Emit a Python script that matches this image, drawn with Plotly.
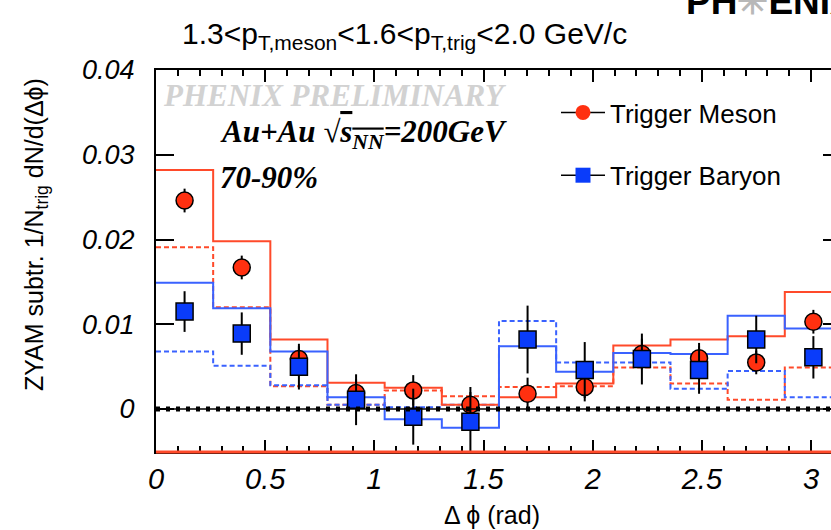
import numpy as np
import plotly.graph_objects as go

# ---------------- data ----------------
n_bins = 12
bin_edges = np.linspace(0, np.pi, n_bins + 1)
bin_centers = 0.5 * (bin_edges[:-1] + bin_edges[1:])

meson = [0.0246, 0.0167, 0.0059, 0.0019, 0.0022, 0.0005, 0.0018, 0.0026, 0.0065, 0.0060, 0.0055, 0.0103]
meson_err = [0.0014, 0.0014, 0.0015, 0.0016, 0.0018, 0.0021, 0.0019, 0.0017, 0.0018, 0.0018, 0.0014, 0.0014]
baryon = [0.0115, 0.0089, 0.0050, 0.0011, -0.0009, -0.0015, 0.0082, 0.0046, 0.0059, 0.0046, 0.0082, 0.0061]
baryon_err = [0.0024, 0.0025, 0.0027, 0.0030, 0.0033, 0.0035, 0.0040, 0.0033, 0.0030, 0.0028, 0.0028, 0.0025]

meson_band_hi = [0.0282, 0.0198, 0.0082, 0.0031, 0.0025, 0.0005, 0.0014, 0.0030, 0.0075, 0.0082, 0.0086, 0.0138]
meson_band_lo = [0.0191, 0.0120, 0.0027, 0.0005, 0.0022, 0.0015, 0.0026, 0.0027, 0.0049, 0.0030, 0.0011, 0.0049]
baryon_band_hi = [0.0149, 0.0119, 0.0068, 0.0014, -0.0012, -0.0022, 0.0074, 0.0044, 0.0066, 0.0065, 0.0110, 0.0095]
baryon_band_lo = [0.0068, 0.0051, 0.0028, 0.0005, 0.0002, 0.0005, 0.0104, 0.0055, 0.0055, 0.0024, 0.0045, 0.0014]

x_ticks = [0, 0.5, 1, 1.5, 2, 2.5, 3]
x_tick_labels = ["0", "0.5", "1", "1.5", "2", "2.5", "3"]
y_ticks = [0, 0.01, 0.02, 0.03, 0.04]
y_tick_labels = ["0", "0.01", "0.02", "0.03", "0.04"]

# ---------------- style ----------------
RED = "#FF3010"
RED_LINE = "#FF4A2A"
BLUE = "#0A3CFA"
BLUE_LINE = "#3A62FF"
SANS = "Liberation Sans"
SERIF = "Liberation Serif"

# plot area in pixels (reference): x 156..831, y 70..452
PX_L, PX_R, PX_T, PX_B = 156, 831, 70, 452
W, H = 831, 530
def px(xp):
    return (xp - PX_L) / (PX_R - PX_L)
def py(yp):
    return (PX_B - yp) / (PX_B - PX_T)

fig = go.Figure()

def step(vals, color, dash):
    xs = list(bin_edges)
    ys = list(vals) + [vals[-1]]
    fig.add_trace(go.Scatter(x=xs, y=ys, mode="lines", line_shape="hv",
                             line=dict(color=color, width=2, dash=dash),
                             showlegend=False, hoverinfo="skip"))

step(meson_band_lo, RED_LINE, "5px,3px")
step(baryon_band_lo, BLUE_LINE, "5px,3px")
step(meson_band_hi, RED_LINE, "solid")
step(baryon_band_hi, BLUE_LINE, "solid")

fig.add_trace(go.Scatter(
    x=bin_centers, y=meson, mode="markers", showlegend=False,
    marker=dict(symbol="circle", size=17, color=RED, line=dict(color="black", width=1.5)),
    error_y=dict(type="data", array=meson_err, color="black", thickness=2, width=0)))
fig.add_trace(go.Scatter(
    x=bin_centers, y=baryon, mode="markers", showlegend=False,
    marker=dict(symbol="square", size=17, color=BLUE, line=dict(color="black", width=1.5)),
    error_y=dict(type="data", array=baryon_err, color="black", thickness=2, width=0)))

# legend entries
fig.add_trace(go.Scatter(x=[None], y=[None], mode="lines+markers", name="Trigger Meson",
                         legendgroup="m",
                         line=dict(color="black", width=1.5),
                         marker=dict(symbol="circle", size=15, color=RED)))
fig.add_trace(go.Scatter(x=[None], y=[None], mode="lines+markers", name="Trigger Baryon",
                         legendgroup="b",
                         line=dict(color="black", width=1.5),
                         marker=dict(symbol="square", size=15, color=BLUE)))

# zero line (thin solid + thick dotted) and red bottom line
fig.add_shape(type="line", xref="x domain", yref="y", x0=0, x1=1, y0=0, y1=0,
              line=dict(color="black", width=1.5), layer="above")
fig.add_shape(type="line", xref="x domain", yref="y", x0=0, x1=1, y0=0, y1=0,
              line=dict(color="black", width=5, dash="4px,6px"), layer="above")
fig.add_shape(type="line", xref="x domain", yref="y domain", x0=0, x1=1, y0=0, y1=0,
              line=dict(color=RED_LINE, width=3), layer="above")

annotations = [
    dict(text="1.3&lt;p<sub>T,meson</sub>&lt;1.6&lt;p<sub>T,trig</sub>&lt;2.0 GeV/c",
         x=px(180), y=py(35), xanchor="left", yanchor="middle",
         font=dict(family=SANS, size=30, color="black")),
    dict(text="PHENIX PRELIMINARY", x=px(161), y=py(95), xanchor="left", yanchor="middle",
         font=dict(family=SERIF, size=31, color="#D2D2D2", weight="bold", style="italic")),
    dict(text='Au+Au √<span style="text-decoration:overline">s<sub>NN</sub></span>=200GeV',
         x=px(218), y=py(134), xanchor="left", yanchor="middle",
         font=dict(family=SERIF, size=31, color="black", weight="bold", style="italic")),
    dict(text="70-90%", x=px(218), y=py(177), xanchor="left", yanchor="middle",
         font=dict(family=SERIF, size=31, color="black", weight="bold", style="italic")),
    dict(text="ZYAM subtr. 1/N<sub>trig</sub> dN/d(Δϕ)", x=px(36), y=py(235),
         xanchor="center", yanchor="middle", textangle=-90,
         font=dict(family=SANS, size=25, color="black")),
    dict(text="Δ ϕ (rad)", x=px(492), y=py(515), xanchor="center", yanchor="middle",
         font=dict(family=SANS, size=25, color="black")),
    dict(text='PH<span style="color:#B8B8B8">✳</span>ENIX', x=px(684), y=py(2),
         xanchor="left", yanchor="middle",
         font=dict(family=SANS, size=37, color="black", weight="bold")),
]
for a in annotations:
    a.update(xref="paper", yref="paper", showarrow=False)

fig.update_layout(
    width=W, height=H,
    margin=dict(l=PX_L, r=W - PX_R, t=PX_T, b=H - PX_B, pad=0),
    paper_bgcolor="white", plot_bgcolor="white",
    annotations=annotations,
    showlegend=True,
    legend=dict(x=px(556), y=py(89), xanchor="left", yanchor="top",
                bgcolor="rgba(0,0,0,0)", traceorder="grouped", tracegroupgap=26,
                font=dict(family=SANS, size=26, color="black"),
                itemsizing="trace", itemwidth=44),
    xaxis=dict(range=[0, (PX_R - PX_L) / 218.35], showgrid=False, zeroline=False,
               showline=True, linecolor="black", linewidth=2, mirror="ticks",
               ticks="inside", ticklen=12, tickwidth=1.5, tickcolor="black",
               tickvals=x_ticks, ticktext=x_tick_labels, ticklabelstandoff=0,
               tickfont=dict(family=SANS, size=29, color="black", style="italic"),
               minor=dict(dtick=0.1, ticks="inside", ticklen=6, tickwidth=1.5, tickcolor="black")),
    yaxis=dict(range=[-0.00507, 0.04], showgrid=False, zeroline=False,
               showline=True, linecolor="black", linewidth=2,
               ticks="inside", ticklen=18, tickwidth=1.5, tickcolor="black",
               tickvals=y_ticks, ticktext=y_tick_labels, ticklabelstandoff=14,
               tickfont=dict(family=SANS, size=27, color="black", style="italic")),
    yaxis2=dict(overlaying="y", side="right", anchor="free", position=1,
                range=[-0.00507, 0.04], showgrid=False, zeroline=False, showline=False,
                ticks="inside", ticklen=8, tickwidth=1.5, tickcolor="black",
                tickvals=y_ticks, showticklabels=False),
)
# empty trace so the right-hand tick axis is drawn
fig.add_trace(go.Scatter(x=[None], y=[None], yaxis="y2", showlegend=False, hoverinfo="skip"))

fig.write_html("out.html")
